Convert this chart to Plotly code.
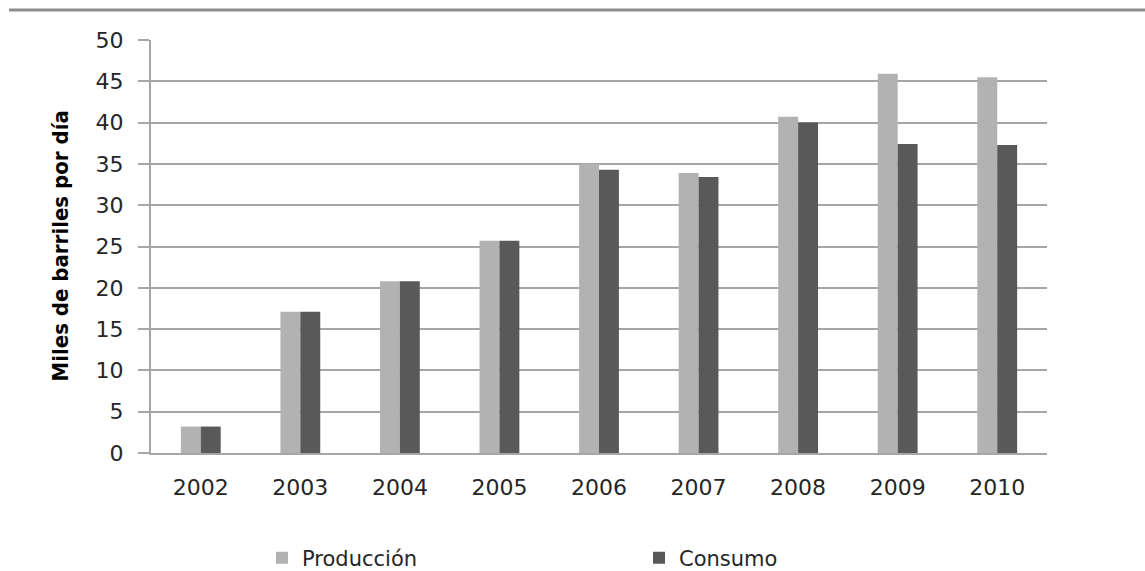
import plotly.graph_objects as go

years = ["2002", "2003", "2004", "2005", "2006", "2007", "2008", "2009", "2010"]
produccion = [3.2, 17.1, 20.8, 25.7, 35.0, 33.9, 40.7, 45.9, 45.5]
consumo = [3.2, 17.1, 20.8, 25.7, 34.3, 33.4, 40.0, 37.4, 37.3]
y_ticks = [0, 5, 10, 15, 20, 25, 30, 35, 40, 45, 50]

W, H = 1145, 571
L, R, T, B = 151, 98, 40, 118

fig = go.Figure()
fig.add_trace(go.Bar(name="Producción", x=years, y=produccion,
                     marker=dict(color="#b2b2b2", line=dict(width=0))))
fig.add_trace(go.Bar(name="Consumo", x=years, y=consumo,
                     marker=dict(color="#595959", line=dict(width=0))))

tick_font = dict(family="DejaVu Sans", size=22, color="#262626")

fig.update_layout(
    width=W, height=H,
    margin=dict(l=L, r=R, t=T, b=B, pad=0),
    paper_bgcolor="white", plot_bgcolor="white",
    barmode="group", bargap=0.6, bargroupgap=0,
    showlegend=True,
    legend=dict(orientation="h", xref="container", yref="container",
                x=262 / W, xanchor="left", y=1 - 558 / H, yanchor="middle",
                font=dict(family="DejaVu Sans", size=21, color="#262626"),
                entrywidthmode="pixels", entrywidth=332,
                itemsizing="constant", traceorder="normal"),
    xaxis=dict(showgrid=False, showline=True, linecolor="#a6a6a6", linewidth=2,
               ticks="", tickfont=tick_font, ticklabelstandoff=14,
               zeroline=False),
    yaxis=dict(range=[0, 50], tickvals=y_ticks, showgrid=True,
               gridcolor="#a6a6a6", gridwidth=2, showline=True,
               linecolor="#a6a6a6", linewidth=2, ticks="outside", ticklen=11,
               tickcolor="#a6a6a6", tickwidth=2, tickfont=tick_font,
               ticklabelstandoff=10, zeroline=False),
    shapes=[dict(type="line", xref="paper", yref="paper",
                 x0=-L / (W - L - R) + 9 / (W - L - R), x1=(W - L) / (W - L - R),
                 y0=1 + (T - 10) / (H - T - B), y1=1 + (T - 10) / (H - T - B),
                 line=dict(color="#8c8c8c", width=3))],
    annotations=[dict(text="<b>Miles de barriles por día</b>", textangle=-90,
                      xref="paper", yref="paper",
                      x=(60 - L) / (W - L - R), y=0.5,
                      xanchor="center", yanchor="middle", showarrow=False,
                      font=dict(family="DejaVu Sans Condensed, Roboto Condensed, Roboto, sans-serif",
                                size=22, color="black"))],
)

fig.write_html("out.html")
